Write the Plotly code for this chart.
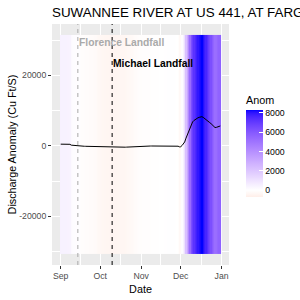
import numpy as np
import pandas as pd
import plotly.graph_objects as go

# ---------------- data ----------------
dates = pd.date_range("2018-09-01", "2018-12-31", freq="D")

anom_sep = [480, 470, 470, 460, 460, 450, 450, 440,
            200, 150, 120, 100, 100, 90, 80,
            -80, -100, -110, -120, -130, -140, -150, -160, -170, -180, -190, -200, -230, -270, -310]
anom_oct = [-340, -360, -380, -390, -400, -410, -410, -420, -420, -420, -420, -420, -420, -410, -410,
            -400, -400, -390, -390, -380,
            -360, -330, -300, -270, -250, -220, -190, -160, -140, -120, -100]
anom_nov = [-90, -80, -75, -70, -65, -60, -55, -50, -45, -40, -35, -30, -25, -20, -10,
            0, 10, 20, 30, 40, 50, 50, 60, 60, 60, 60, 40, 0, -100, -280]
anom_dec = [-250, 100, 500, 1100, 2200, 3100, 4200, 5300, 6300, 6800,
            7200, 7500, 7750, 7950, 8100, 8200, 8280, 8100, 7850, 7600,
            7300, 6900, 6600, 6300, 5900, 5500, 5200, 5250, 5450, 5600, 5650]
anom = anom_sep + anom_oct + anom_nov + anom_dec

events = ["Florence Landfall", "Michael Landfall"]
event_dates = ["2018-09-14", "2018-10-10"]
event_label_y = [29220, 23460]

title_text = "SUWANNEE RIVER AT US 441, AT FARGO, GA"
x_tick_vals = ["2018-09-01", "2018-10-01", "2018-11-01", "2018-12-01", "2019-01-01"]
x_tick_text = ["Sep", "Oct", "Nov", "Dec", "Jan"]
x_minor_vals = ["2018-09-16", "2018-10-16 12:00", "2018-11-16", "2018-12-16 12:00"]
y_tick_vals = [-20000, 0, 20000]
y_tick_text = ["-20000", "0", "20000"]
y_minor_vals = [-30000, -10000, 10000, 30000]
cbar_ticks = [0, 2000, 4000, 6000, 8000]
cbar_tick_text = ["0", "2000", "4000", "6000", "8000"]

# ---------------- styling ----------------
tile_bottom, tile_top = -30720, 31490
zmin, zmax = -700, 8280


def srgb_to_lab(rgb):
    c = np.array(rgb, dtype=float) / 255.0
    lin = np.where(c <= 0.04045, c / 12.92, ((c + 0.055) / 1.055) ** 2.4)
    M = np.array([[0.4124564, 0.3575761, 0.1804375],
                  [0.2126729, 0.7151522, 0.0721750],
                  [0.0193339, 0.1191920, 0.9503041]])
    xyz = M @ lin
    wn = np.array([0.95047, 1.0, 1.08883])
    r = xyz / wn
    d = 6 / 29
    f = np.where(r > d ** 3, np.cbrt(r), r / (3 * d * d) + 4 / 29)
    return np.array([116 * f[1] - 16, 500 * (f[0] - f[1]), 200 * (f[1] - f[2])])


def lab_to_srgb(lab):
    L, a, b = lab
    fy = (L + 16) / 116
    fx = fy + a / 500
    fz = fy - b / 200
    d = 6 / 29
    f = np.array([fx, fy, fz])
    r = np.where(f > d, f ** 3, 3 * d * d * (f - 4 / 29))
    xyz = r * np.array([0.95047, 1.0, 1.08883])
    Minv = np.array([[3.2404542, -1.5371385, -0.4985314],
                     [-0.9692660, 1.8760108, 0.0415560],
                     [0.0556434, -0.2040259, 1.0572252]])
    lin = np.clip(Minv @ xyz, 0, 1)
    c = np.where(lin <= 0.0031308, 12.92 * lin, 1.055 * lin ** (1 / 2.4) - 0.055)
    c = np.clip(np.round(c * 255), 0, 255).astype(int)
    return "rgb(%d,%d,%d)" % tuple(c)


lab_low = srgb_to_lab((255, 0, 0))
lab_mid = srgb_to_lab((255, 255, 255))
lab_high = srgb_to_lab((0, 0, 255))
max_abs = max(abs(zmin), abs(zmax))


def color_for(v):
    t = 0.5 + v / (2 * max_abs)
    if t <= 0.5:
        s = t / 0.5
        lab = lab_low + (lab_mid - lab_low) * s
    else:
        s = (t - 0.5) / 0.5
        lab = lab_mid + (lab_high - lab_mid) * s
    return lab_to_srgb(lab)


fracs = sorted(set(list(np.linspace(0, 1, 81)) + [(0 - zmin) / (zmax - zmin)]))
colorscale = [[float(f), color_for(zmin + f * (zmax - zmin))] for f in fracs]

# plot area in pixels
L_, R_, T_, B_ = 52, 71, 24, 35
W, H = 300, 300
pw, ph = W - L_ - R_, H - T_ - B_

x0 = dates[0] - pd.Timedelta(hours=12)
x1 = dates[-1] + pd.Timedelta(hours=12)
span = x1 - x0
x_range = [x0 - span * 0.05, x1 + span * 0.05]
yspan = tile_top - tile_bottom
y_range = [tile_bottom - 0.05 * yspan, tile_top + 0.05 * yspan]

fig = go.Figure()
fig.add_trace(go.Heatmap(
    x=dates, y=[tile_bottom, tile_top], z=[anom],
    colorscale=colorscale, zmin=zmin, zmax=zmax,
    hoverinfo="skip",
    colorbar=dict(
        thickness=17, thicknessmode="pixels",
        len=104, lenmode="pixels",
        x=(246 - L_) / pw, xanchor="left", xpad=0,
        y=(H - B_ - 145) / ph, yanchor="middle", ypad=0,
        outlinewidth=0,
        tickvals=cbar_ticks, ticktext=cbar_tick_text,
        ticks="inside", ticklen=3.5,
        tickcolor="white", tickwidth=1,
        tickfont=dict(size=8.7, color="black"),
        title=dict(text="Anom", side="top", font=dict(size=10.8, color="black")),
    ),
))
fig.add_trace(go.Scatter(
    x=dates, y=anom, mode="lines",
    line=dict(color="black", width=1),
    showlegend=False, hoverinfo="skip",
))

line_colors = ["#A8A8A8", "black"]
text_colors = ["#AAAAAA", "black"]
for name, d, yl, lc, tc in zip(events, event_dates, event_label_y, line_colors, text_colors):
    fig.add_shape(type="line", x0=d, x1=d, y0=0, y1=1, xref="x", yref="paper",
                  line=dict(color=lc, width=1, dash="4px,4px"), layer="above")
    fig.add_annotation(x=d, y=yl, text="<b>%s</b>" % name, showarrow=False,
                       xanchor="left", yanchor="middle", xshift=-1,
                       font=dict(size=10.3, color=tc))

fig.update_layout(
    width=W, height=H,
    margin=dict(l=L_, r=R_, t=T_, b=B_, pad=0, autoexpand=False),
    paper_bgcolor="white", plot_bgcolor="#EBEBEB",
    font=dict(family="Liberation Sans, Arial, sans-serif", color="black"),
    showlegend=False,
    title=dict(text=title_text, x=L_ / W, xanchor="left", xref="container",
               y=1 - 12.3 / H, yanchor="middle",
               font=dict(size=13.4, color="black")),
    xaxis=dict(
        type="date", range=x_range, automargin=False,
        tickvals=x_tick_vals, ticktext=x_tick_text,
        showgrid=True, gridcolor="white", gridwidth=1.1,
        minor=dict(tickvals=x_minor_vals, showgrid=True, gridcolor="white", gridwidth=0.55, ticks=""),
        ticks="outside", ticklen=3, tickwidth=1, tickcolor="#333333",
        tickfont=dict(size=8.7, color="#4D4D4D"),
        zeroline=False, showline=False,
        title=dict(text="Date", font=dict(size=10.8), standoff=4),
    ),
    yaxis=dict(
        range=y_range, automargin=False,
        tickvals=y_tick_vals, ticktext=y_tick_text,
        showgrid=True, gridcolor="white", gridwidth=1.1,
        minor=dict(tickvals=y_minor_vals, showgrid=True, gridcolor="white", gridwidth=0.55, ticks=""),
        ticks="outside", ticklen=3, tickwidth=1, tickcolor="#333333",
        tickfont=dict(size=8.7, color="#4D4D4D"),
        zeroline=False, showline=False,
        title=dict(text="Discharge Anomaly (Cu Ft/S)", font=dict(size=10.8), standoff=0),
    ),
)

fig.write_html("out.html")
